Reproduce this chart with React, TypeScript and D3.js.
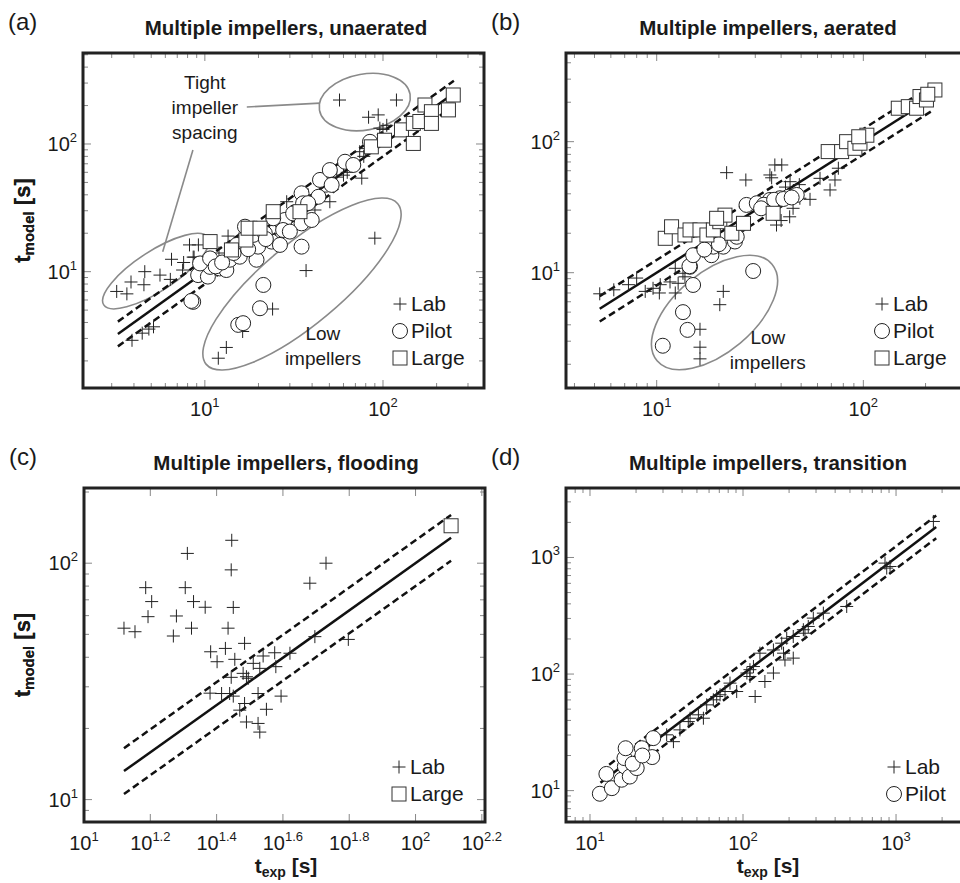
import React from 'react';
import * as d3 from 'd3';

type Pt = [number, number];

const FONT = "'Liberation Sans', Arial, Helvetica, sans-serif";
const INK = '#1a1a1a';

// ---- (a) multiple impellers, unaerated
const labA: Pt[] = [
  [3.2, 7.0], [3.65, 6.7], [3.85, 8.3], [4.55, 7.9], [4.6, 10], [5.6, 9.4], [6.4, 8.7], [6.5, 12.5],
  [7.6, 11.8], [7.5, 10.3], [8.2, 16.2], [8.7, 13], [9.2, 16.2],
  [3.9, 2.9], [4.45, 3.3], [4.85, 3.55], [5.15, 3.7],
  [11.9, 2.1], [13.2, 2.55], [16.3, 3.4], [24, 5.1], [37, 10.2], [90, 18.3],
  [57, 221], [119, 221], [83, 162], [94, 169],
  [8.6, 13], [12, 14], [13.5, 19], [16, 17], [20, 21], [25, 25], [28.8, 35.3], [33, 33], [41.5, 30.4],
  [38, 40], [45, 42], [50.3, 35.3], [55, 55], [60, 57], [63, 60], [74, 87], [78, 80], [76, 54], [80, 92],
  [86, 100], [96, 133], [100, 130], [105, 140],
];
const pilotA: Pt[] = [
  [8.6, 5.8], [8.4, 5.9], [9.17, 9.4], [10.4, 9.15], [10.7, 10.9], [9.4, 11.6], [10.7, 12.7], [12.1, 10.6],
  [13.2, 10.3], [13.8, 12.4], [15.7, 13.1], [16.8, 22.5], [15.1, 16.2], [19.5, 12.4], [19.9, 15.7],
  [23.7, 17.2], [26.4, 16.2], [28.1, 25.4], [27.5, 21.2], [31.3, 28.6], [34.9, 23.9], [39.8, 25.4],
  [34.9, 41.1], [35.6, 34.3], [34.9, 15.7], [43.4, 38.6], [44.3, 52.3], [51.5, 47.8], [50.3, 62.5],
  [61.2, 72.6], [68.1, 68.5], [84.5, 104], [21.3, 7.87], [20.4, 5.17], [15.4, 3.83], [16.4, 3.95],
  [18.7, 19.4], [21.7, 20], [24.2, 26.2], [30, 20.6], [38, 34.4], [11.5, 11], [12.5, 11.8], [14.5, 14],
  [17.5, 15], [22, 18],
];
const largeA: Pt[] = [
  [10.7, 17.2], [14.1, 14.8], [17, 17.7], [17.5, 21.9], [20.4, 21.9], [24.2, 29.5], [34.2, 29.5],
  [86, 95], [102, 107], [127, 129], [148, 101], [148, 145], [161, 150], [172, 202], [187, 179],
  [187, 145], [233, 185], [248, 242],
];

// ---- (b) multiple impellers, aerated
const labB: Pt[] = [
  [5.3, 6.9], [6.2, 7.4], [7.3, 8.1], [8.0, 9.1], [8.8, 7.2], [9.6, 7.6], [10.3, 7.0], [10.4, 8.1],
  [11.6, 8.5], [12.3, 7.0], [12.7, 8.3], [13.7, 9.3], [12.3, 10.8], [13.4, 9.9],
  [16.2, 3.7], [16.2, 2.7], [16.2, 2.2], [21, 7.2], [20.2, 5.7],
  [21.8, 58], [27, 51], [35.3, 55.7], [37.3, 66.4], [40.3, 66.4], [44.2, 49.5], [49.3, 37], [55.2, 36.3],
  [61.7, 52.5], [72.9, 51], [69, 42.8], [75.7, 62.7], [45.7, 31], [44, 26.7], [38, 23.1], [40, 25],
  [49, 47], [36, 53], [42, 45],
];
const pilotB: Pt[] = [
  [10.7, 2.77], [14.1, 3.66], [13.4, 5.0], [15.0, 8.06], [29.3, 10.3], [14.5, 11.1], [14.4, 11.2],
  [15, 13.6], [18.4, 13.6], [18.8, 15.8], [21, 15.8], [23.9, 17.3], [24.4, 18.8], [27.2, 32.9],
  [30.5, 33.9], [35.3, 35.9], [39.5, 37], [43.4, 38], [47.6, 39.2], [33, 33], [37, 36], [41, 36.5],
  [45, 37.5], [32, 31], [17, 15], [20, 16.5],
];
const largeB: Pt[] = [
  [11, 18.3], [11.8, 22.4], [13.7, 19.4], [14.5, 21.2], [16.2, 21.2], [17.5, 19.4], [18.8, 21.2],
  [20.2, 24.5], [21.4, 27.5], [19.5, 26], [23.1, 20], [26.3, 23.8], [36.6, 28.4], [67.6, 84], [78.5, 84],
  [83, 100], [91, 89], [96.3, 97.3], [104, 112], [95, 109], [147.6, 180], [165, 185], [181, 180],
  [188, 221], [202, 208], [222, 248], [205, 230],
];

// ---- (c) multiple impellers, flooding
const labC: Pt[] = [
  [13.2, 53.1], [14.25, 51.3], [15.35, 78.8], [16.0, 68.8], [15.6, 59.4], [18.6, 49.2], [19.0, 59.8],
  [20.2, 78.8], [20.5, 110], [21.4, 68.8], [21.1, 53.1], [23.2, 65.1], [24.1, 42.2], [25.2, 38.3],
  [26.7, 43.6], [27.2, 53.1], [27.9, 125], [27.8, 93.7], [28.2, 65], [28.5, 39.2], [27.8, 32.9],
  [27.5, 28.1], [28.2, 27.4], [26, 28.1], [24, 28.2], [30.5, 45.8], [30.2, 34.2], [30.9, 33.1],
  [31.3, 32.6], [32.4, 37.7], [34.7, 40.5], [33.9, 35.9], [37.6, 41.8], [37.9, 36.5], [41.8, 41.6],
  [39.3, 27.4], [35.5, 24.1], [33.5, 21], [33.9, 19.3], [30.9, 21.3], [29.5, 23.9], [30.5, 25.5],
  [48, 82.3], [53.7, 100], [49.7, 48.9], [62.7, 47.6], [33.5, 28.1],
];
const largeC: Pt[] = [[128, 144]];
const xExpC = [1, 1.2, 1.4, 1.6, 1.8, 2, 2.2];

// ---- (d) multiple impellers, transition
const labD: Pt[] = [
  [31.7, 30.1], [35.1, 26.3], [38.7, 33.2], [43.9, 39.1], [45.1, 41.8], [51.1, 44.7], [55.1, 41.8],
  [57.9, 54.4], [64, 60.1], [67.3, 64.2], [70.8, 66.4], [76.3, 70.8], [82.2, 83.6], [90.9, 70.8],
  [106, 102], [111, 109], [117, 116], [111, 95.3], [120, 64.2], [139, 86.3], [158, 102], [129, 151],
  [158, 161], [179, 184], [184, 151], [188, 132], [213, 137], [193, 203], [213, 210], [248, 240],
  [267, 256], [254, 224], [288, 302], [335, 333], [476, 380], [847, 895], [914, 837], [869, 811],
  [1754, 2037],
];
const pilotD: Pt[] = [
  [11.6, 9.4], [12.8, 13.9], [13.9, 10.5], [16.1, 12.4], [16.9, 16.1], [16.8, 19], [17.1, 23.1],
  [18.2, 13.2], [20.2, 15.6], [21.8, 23.1], [25.9, 28.2], [25.5, 19.4], [19, 17], [22, 20],
];

interface Ell { c: Pt; a: number; b: number; rot: number }
interface Note { at: Pt; lines: string[] }
interface PanelCfg {
  tag: string;
  title: string;
  box: { left: number; right: number; top: number; bottom: number };
  xDomain: Pt;
  yDomain: Pt;
  xExps?: number[];
  lab: Pt[];
  pilot: Pt[];
  large: Pt[];
  fit: Pt;
  legend: string[];
  legendAt: Pt;
  xTitle: boolean;
  ellipses: Ell[];
  notes: Note[];
  leaders: [Pt, Pt][];
}

const panels: PanelCfg[] = [
  {
    tag: '(a)', title: 'Multiple impellers, unaerated',
    box: { left: 83, right: 484, top: 53, bottom: 388 },
    xDomain: [2.07, 369], yDomain: [1.227, 516],
    lab: labA, pilot: pilotA, large: largeA, fit: [3.25, 250],
    legend: ['Lab', 'Pilot', 'Large'], legendAt: [400, 304], xTitle: false,
    ellipses: [
      { c: [79, 213], a: 46, b: 28, rot: -10 },
      { c: [5.3, 10.1], a: 62, b: 20, rot: -33 },
      { c: [35.1, 8.0], a: 125, b: 40, rot: -40 },
    ],
    notes: [
      { at: [10, 300], lines: ['Tight', 'impeller', 'spacing'] },
      { at: [46, 3.25], lines: ['Low', 'impellers'] },
    ],
    leaders: [[[17.2, 195], [44.3, 209]], [[8.57, 89.8], [5.8, 14.3]]],
  },
  {
    tag: '(b)', title: 'Multiple impellers, aerated',
    box: { left: 566, right: 975, top: 53, bottom: 388 },
    xDomain: [3.64, 347], yDomain: [1.318, 475],
    lab: labB, pilot: pilotB, large: largeB, fit: [5.3, 220],
    legend: ['Lab', 'Pilot', 'Large'], legendAt: [882, 304], xTitle: false,
    ellipses: [{ c: [19.05, 4.97], a: 75, b: 40, rot: -40 }],
    notes: [{ at: [34.5, 3.17], lines: ['Low', 'impellers'] }],
    leaders: [],
  },
  {
    tag: '(c)', title: 'Multiple impellers, flooding',
    box: { left: 84, right: 485, top: 488, bottom: 822 },
    xDomain: [10, 162], yDomain: [8.04, 208], xExps: xExpC,
    lab: labC, pilot: [], large: largeC, fit: [13.2, 128],
    legend: ['Lab', 'Large'], legendAt: [399, 767], xTitle: true,
    ellipses: [], notes: [], leaders: [],
  },
  {
    tag: '(d)', title: 'Multiple impellers, transition',
    box: { left: 566, right: 975, top: 488, bottom: 822 },
    xDomain: [6.97, 3281], yDomain: [5.38, 3945],
    lab: labD, pilot: pilotD, large: [], fit: [11.7, 1830],
    legend: ['Lab', 'Pilot'], legendAt: [894, 767], xTitle: true,
    ellipses: [], notes: [], leaders: [],
  },
];

const isPow = (v: number) => Math.abs(Math.log10(v) - Math.round(Math.log10(v))) < 1e-6;
const fmtExp = d3.format('~g');

const Plus = ({ cx, cy }: { cx: number; cy: number }) => (
  <path d={`M${cx - 6.5},${cy}h13M${cx},${cy - 6.5}v13`} stroke="#222" strokeWidth={1} fill="none" />
);
const Ring = ({ cx, cy }: { cx: number; cy: number }) => (
  <circle cx={cx} cy={cy} r={7.5} fill="white" stroke="#222" strokeWidth={1} />
);
const Box = ({ cx, cy }: { cx: number; cy: number }) => (
  <rect x={cx - 7} y={cy - 7} width={14} height={14} fill="white" stroke="#333" strokeWidth={1} />
);
const symbolFor: Record<string, any> = { Lab: Plus, Pilot: Ring, Large: Box };

const Pow = ({ x, y, exp, anchor }: { x: number; y: number; exp: number; anchor: string }) => (
  <text x={x} y={y} textAnchor={anchor} fontSize={20} fill={INK}>
    10<tspan dy={-9} fontSize={13}>{fmtExp(exp)}</tspan>
  </text>
);

function Panel({ cfg }: { cfg: PanelCfg }) {
  const { box } = cfg;
  const x = d3.scaleLog().domain(cfg.xDomain).range([box.left, box.right]);
  const y = d3.scaleLog().domain(cfg.yDomain).range([box.bottom, box.top]);

  const xTicks = cfg.xExps
    ? cfg.xExps.map((e) => ({ v: Math.pow(10, e), major: true, exp: e }))
    : x.ticks().map((v) => ({ v, major: isPow(v), exp: Math.round(Math.log10(v)) }));
  const yTicks = y.ticks().map((v) => ({ v, major: isPow(v), exp: Math.round(Math.log10(v)) }));

  const line = d3.line<Pt>().x((d) => x(d[0])).y((d) => y(d[1]));
  const [f0, f1] = cfg.fit;
  const fitLine = (k: number) => line([[f0, f0 * k], [f1, f1 * k]]) || '';
  const titleX = cfg.box.right > 900 ? 768 : 286;
  const cy = (box.top + box.bottom) / 2;

  return (
    <g fontFamily={FONT}>
      <text x={cfg.box.left - 75} y={box.top - 23} fontSize={24} fill={INK}>{cfg.tag}</text>
      <text x={titleX} y={box.top - 18} textAnchor="middle" fontSize={20.5} fontWeight="bold" fill={INK}>
        {cfg.title}
      </text>

      {/* ticks */}
      <g stroke="#888" strokeWidth={1}>
        {xTicks.map((t, i) => {
          const px = x(t.v);
          const len = t.major ? 8 : 5;
          return (
            <g key={'x' + i}>
              <line x1={px} x2={px} y1={box.bottom} y2={box.bottom - len} />
              <line x1={px} x2={px} y1={box.top} y2={box.top + len} />
            </g>
          );
        })}
        {yTicks.map((t, i) => {
          const py = y(t.v);
          const len = t.major ? 8 : 5;
          return (
            <g key={'y' + i}>
              <line x1={box.left} x2={box.left + len} y1={py} y2={py} />
              <line x1={box.right} x2={box.right - len} y1={py} y2={py} />
            </g>
          );
        })}
      </g>
      {xTicks.filter((t) => t.major).map((t, i) => (
        <Pow key={'xl' + i} x={x(t.v)} y={box.bottom + 28} exp={t.exp} anchor="middle" />
      ))}
      {yTicks.filter((t) => t.major).map((t, i) => (
        <Pow key={'yl' + i} x={box.left - 6} y={y(t.v) + 7} exp={t.exp} anchor="end" />
      ))}

      {/* axis titles */}
      <text transform={`translate(30,${cy}) rotate(-90)`} textAnchor="middle" fontSize={22} fontWeight="bold" fill={INK}>
        t<tspan dy={4} fontSize={15}>model</tspan><tspan dy={-4}> [s]</tspan>
      </text>
      {cfg.xTitle && (
        <text x={titleX} y={873} textAnchor="middle" fontSize={21} fontWeight="bold" fill={INK}>
          t<tspan dy={4} fontSize={14}>exp</tspan><tspan dy={-4}> [s]</tspan>
        </text>
      )}

      {/* annotations */}
      <g fill="none" stroke="#8a8a8a" strokeWidth={1.6}>
        {cfg.ellipses.map((e, i) => (
          <ellipse key={'e' + i} cx={0} cy={0} rx={e.a} ry={e.b}
            transform={`translate(${x(e.c[0])},${y(e.c[1])}) rotate(${e.rot})`} />
        ))}
        {cfg.leaders.map((l, i) => (
          <path key={'l' + i} d={line(l) || ''} />
        ))}
      </g>
      {cfg.notes.map((n, i) => (
        <text key={'n' + i} textAnchor="middle" fontSize={19} fill={INK}>
          {n.lines.map((s, j) => (
            <tspan key={j} x={x(n.at[0])} y={y(n.at[1]) + 6 + j * 25}>{s}</tspan>
          ))}
        </text>
      ))}

      {/* model line with +/-25 % band */}
      <g fill="none" stroke="#111" strokeWidth={2.5}>
        <path d={fitLine(1)} />
        <path d={fitLine(1.25)} strokeDasharray="7,4" />
        <path d={fitLine(0.8)} strokeDasharray="7,4" />
      </g>

      {cfg.lab.map((d, i) => <Plus key={'p' + i} cx={x(d[0])} cy={y(d[1])} />)}
      {cfg.pilot.map((d, i) => <Ring key={'c' + i} cx={x(d[0])} cy={y(d[1])} />)}
      {cfg.large.map((d, i) => <Box key={'s' + i} cx={x(d[0])} cy={y(d[1])} />)}

      {/* legend */}
      {cfg.legend.map((name, i) => {
        const S = symbolFor[name];
        const ly = cfg.legendAt[1] + i * 27;
        return (
          <g key={'lg' + i}>
            <S cx={cfg.legendAt[0]} cy={ly} />
            <text x={cfg.legendAt[0] + 11} y={ly + 7} fontSize={21} fill={INK}>{name}</text>
          </g>
        );
      })}

      <rect x={box.left} y={box.top} width={box.right - box.left} height={box.bottom - box.top}
        fill="none" stroke="#222" strokeWidth={3} />
    </g>
  );
}

export default function App() {
  return (
    <div style={{ position: 'absolute', left: 0, top: 0, width: 960, height: 883, background: 'white' }}>
      <svg width={960} height={883} style={{ display: 'block' }}>
        <rect width={960} height={883} fill="white" />
        {panels.map((p) => <Panel key={p.tag} cfg={p} />)}
      </svg>
    </div>
  );
}
